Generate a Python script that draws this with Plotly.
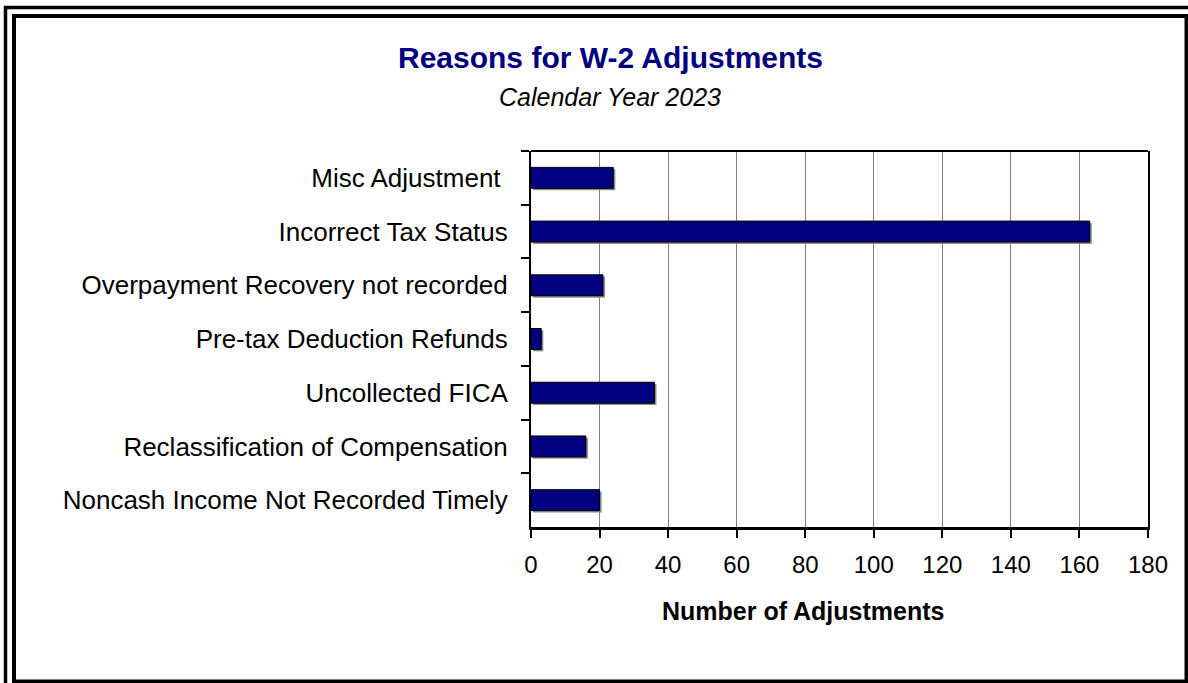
import plotly.graph_objects as go

categories = [
    "Misc Adjustment ",
    "Incorrect Tax Status",
    "Overpayment Recovery not recorded",
    "Pre-tax Deduction Refunds",
    "Uncollected FICA",
    "Reclassification of Compensation",
    "Noncash Income Not Recorded Timely",
]
adjustments = [24, 163, 21, 3, 36, 16, 20]
x_ticks = [0, 20, 40, 60, 80, 100, 120, 140, 160, 180]

title_text = "Reasons for W-2 Adjustments"
subtitle_text = "Calendar Year 2023"
x_title_text = "Number of Adjustments"

W, H = 1188, 683
L, R, T, B = 531, 1148, 151, 527  # plot area in pixels


def px(xp):
    return (xp - L) / (R - L)


def py(yp):
    return (B - yp) / (B - T)


ARIAL = "Liberation Sans, Arial, sans-serif"
BAR_W = 0.39

fig = go.Figure()
# soft gray drop shadow behind each bar
fig.add_trace(go.Bar(
    x=adjustments,
    y=categories,
    base=0.6,
    orientation="h",
    width=BAR_W,
    offset=-BAR_W / 2 + 0.035,
    marker=dict(color="#8c8c8c", line=dict(width=0)),
    showlegend=False,
    hoverinfo="skip",
))
fig.add_trace(go.Bar(
    x=adjustments,
    y=categories,
    orientation="h",
    width=BAR_W,
    offset=-BAR_W / 2,
    marker=dict(color="#000080", line=dict(color="#000000", width=1)),
    showlegend=False,
))

fig.update_layout(
    width=W,
    height=H,
    margin=dict(l=L, r=W - R, t=T, b=H - B, autoexpand=False),
    paper_bgcolor="white",
    plot_bgcolor="white",
    barmode="overlay",
    font=dict(family=ARIAL, size=26, color="black"),
    xaxis=dict(
        range=[0, 180],
        tickvals=x_ticks,
        ticktext=[str(v) for v in x_ticks],
        showgrid=True,
        gridcolor="#808080",
        gridwidth=1,
        zeroline=False,
        showline=True,
        linecolor="black",
        linewidth=3,
        ticks="outside",
        ticklen=8,
        tickwidth=1.5,
        tickcolor="black",
        ticklabelstandoff=6,
        tickfont=dict(family=ARIAL, size=24, color="black"),
    ),
    yaxis=dict(
        type="category",
        categoryorder="array",
        categoryarray=categories,
        autorange="reversed",
        showgrid=False,
        showline=True,
        mirror=True,
        linecolor="black",
        linewidth=2,
        ticks="outside",
        tickson="boundaries",
        ticklen=8,
        tickwidth=1.5,
        tickcolor="black",
        ticklabelstandoff=16,
        tickfont=dict(family=ARIAL, size=26, color="black"),
    ),
)

shapes = [
    # top border of plot area
    dict(type="line", xref="paper", yref="paper", x0=0, x1=1, y0=1, y1=1,
         line=dict(color="black", width=2)),
    # outer frame
    dict(type="rect", xref="paper", yref="paper",
         x0=px(5.5), y0=py(7.5), x1=px(1230), y1=py(730),
         line=dict(color="black", width=3.5)),
    # inner frame
    dict(type="rect", xref="paper", yref="paper",
         x0=px(14), y0=py(16), x1=px(1186.5), y1=py(681.5),
         line=dict(color="black", width=4)),
]
fig.update_layout(shapes=shapes)

fig.add_annotation(text="<b>" + title_text + "</b>", xref="paper", yref="paper",
                   x=px(610.5), y=py(57), xanchor="center", yanchor="middle",
                   showarrow=False, font=dict(family=ARIAL, size=30, color="#000080"))
fig.add_annotation(text="<i>" + subtitle_text + "</i>", xref="paper", yref="paper",
                   x=px(610), y=py(97), xanchor="center", yanchor="middle",
                   showarrow=False, font=dict(family=ARIAL, size=25, color="black"))
fig.add_annotation(text="<b>" + x_title_text + "</b>", xref="paper", yref="paper",
                   x=px(803), y=py(611), xanchor="center", yanchor="middle",
                   showarrow=False, font=dict(family=ARIAL, size=25, color="black"))

fig.write_html("out.html", config={"displayModeBar": False},
               post_script="document.body.style.margin='0';")
